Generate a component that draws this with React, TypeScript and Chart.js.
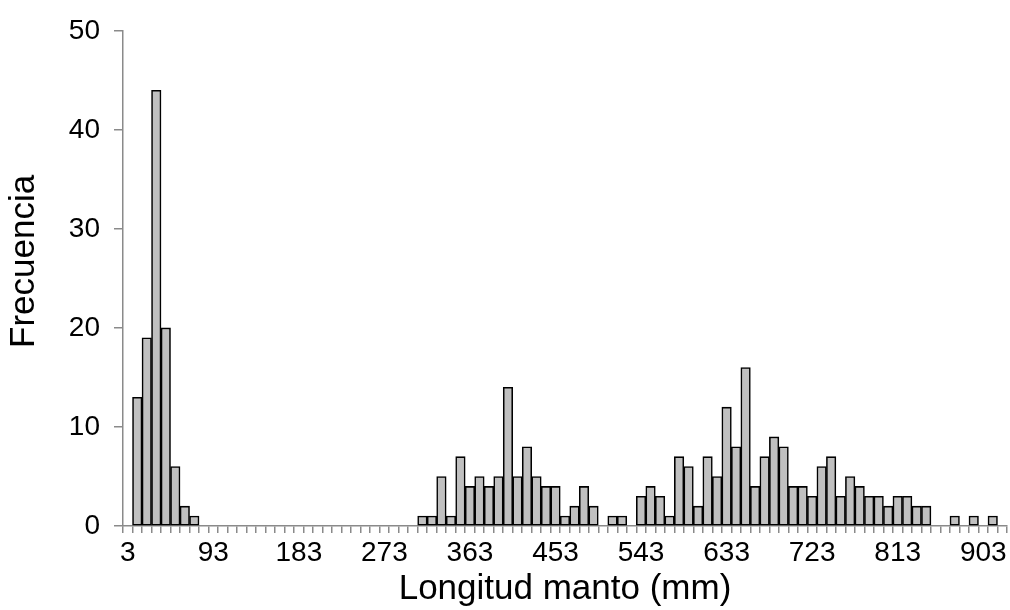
import React, { useEffect, useRef } from "react";
import { Chart, registerables } from "chart.js";

Chart.register(...registerables);

// Bin labels (class marks, mm)
const binLabels: string[] = [
  "3", "13", "23", "33", "43", "53", "63", "73", "83", "93",
  "103", "113", "123", "133", "143", "153", "163", "173", "183", "193",
  "203", "213", "223", "233", "243", "253", "263", "273", "283", "293",
  "303", "313", "323", "333", "343", "353", "363", "373", "383", "393",
  "403", "413", "423", "433", "443", "453", "463", "473", "483", "493",
  "503", "513", "523", "533", "543", "553", "563", "573", "583", "593",
  "603", "613", "623", "633", "643", "653", "663", "673", "683", "693",
  "703", "713", "723", "733", "743", "753", "763", "773", "783", "793",
  "803", "813", "823", "833", "843", "853", "863", "873", "883", "893",
  "903", "913", "923",
];

// Frequencies per bin
const frecuencia: number[] = [
  0, 13, 19, 44, 20, 6, 2, 1, 0, 0,
  0, 0, 0, 0, 0, 0, 0, 0, 0, 0,
  0, 0, 0, 0, 0, 0, 0, 0, 0, 0,
  0, 1, 1, 5, 1, 7, 4, 5, 4, 5,
  14, 5, 8, 5, 4, 4, 1, 2, 4, 2,
  0, 1, 1, 0, 3, 4, 3, 1, 7, 6,
  2, 7, 5, 12, 8, 16, 4, 7, 9, 8,
  4, 4, 3, 6, 7, 3, 5, 4, 3, 3,
  2, 3, 3, 2, 2, 0, 0, 1, 0, 1,
  0, 1, 0,
];

// Tick labels shown on the x axis
const xTickLabels: string[] = ["3", "93", "183", "273", "363", "453", "543", "633", "723", "813", "903"];

// Y axis ticks
const yMin = 0;
const yMax = 50;
const yStep = 10;

const xTitle = "Longitud manto (mm)";
const yTitle = "Frecuencia";

const FONT = "'Liberation Sans', Arial, Helvetica, sans-serif";
const AXIS_GRAY = "#8a8a8a";

// Shifts the y-axis title slightly upward (as in the reference) by
// temporarily widening the scale's top edge while its title is drawn.
const yTitleShift = {
  id: "yTitleShift",
  afterLayout(chart: any) {
    const s: any = chart.scales.y;
    if (!s || s.__titlePatched) return;
    const orig = s.drawTitle;
    s.drawTitle = function (this: any) {
      const t = this.top;
      this.top = t - 34;
      try {
        orig.call(this);
      } finally {
        this.top = t;
      }
    };
    s.__titlePatched = true;
  },
};

export default function App() {
  const canvasRef = useRef<HTMLCanvasElement | null>(null);

  useEffect(() => {
    if (!canvasRef.current) return;
    const chart = new Chart(canvasRef.current, {
      type: "bar",
      data: {
        labels: binLabels,
        datasets: [
          {
            label: yTitle,
            data: frecuencia,
            backgroundColor: "#c0c0c0",
            borderColor: "#000000",
            borderWidth: 1.6,
            borderSkipped: false,
            categoryPercentage: 1,
            barPercentage: 1,
          },
        ],
      },
      options: {
        responsive: false,
        animation: false,
        layout: { padding: { top: 28, right: 3, bottom: 0, left: 0 } },
        plugins: {
          legend: { display: false },
          tooltip: { enabled: false },
          title: { display: false },
        },
        scales: {
          x: {
            type: "category",
            offset: true,
            border: { display: true, color: AXIS_GRAY, width: 1.5 },
            grid: {
              display: true,
              offset: true,
              drawOnChartArea: false,
              drawTicks: true,
              tickLength: 7,
              color: AXIS_GRAY,
              lineWidth: 1.5,
            },
            ticks: {
              autoSkip: false,
              maxRotation: 0,
              minRotation: 0,
              padding: 3,
              color: "#000000",
              font: { family: FONT, size: 28 },
              callback: (_v: any, idx: number) =>
                xTickLabels.includes(binLabels[idx]) ? binLabels[idx] : "",
            },
            title: {
              display: true,
              text: xTitle,
              color: "#000000",
              font: { family: FONT, size: 35 },
              padding: { top: 0, bottom: 0 },
            },
            afterFit: (s: any) => {
              s.height = 84;
            },
          },
          y: {
            min: yMin,
            max: yMax,
            border: { display: true, color: AXIS_GRAY, width: 1.5 },
            grid: {
              display: true,
              drawOnChartArea: false,
              drawTicks: true,
              tickLength: 9,
              color: AXIS_GRAY,
              lineWidth: 1.5,
            },
            ticks: {
              stepSize: yStep,
              padding: 14,
              color: "#000000",
              font: { family: FONT, size: 28 },
            },
            title: {
              display: true,
              text: yTitle,
              color: "#000000",
              font: { family: FONT, size: 35 },
              padding: { top: 3, bottom: 0 },
            },
            afterFit: (s: any) => {
              s.width = 123;
            },
          },
        },
      },
      plugins: [yTitleShift],
    });
    return () => chart.destroy();
  }, []);

  return (
    <div style={{ position: "absolute", left: 0, top: 0, width: 1010, height: 610, background: "#ffffff" }}>
      <canvas ref={canvasRef} width={1010} height={610} style={{ display: "block" }} />
    </div>
  );
}
